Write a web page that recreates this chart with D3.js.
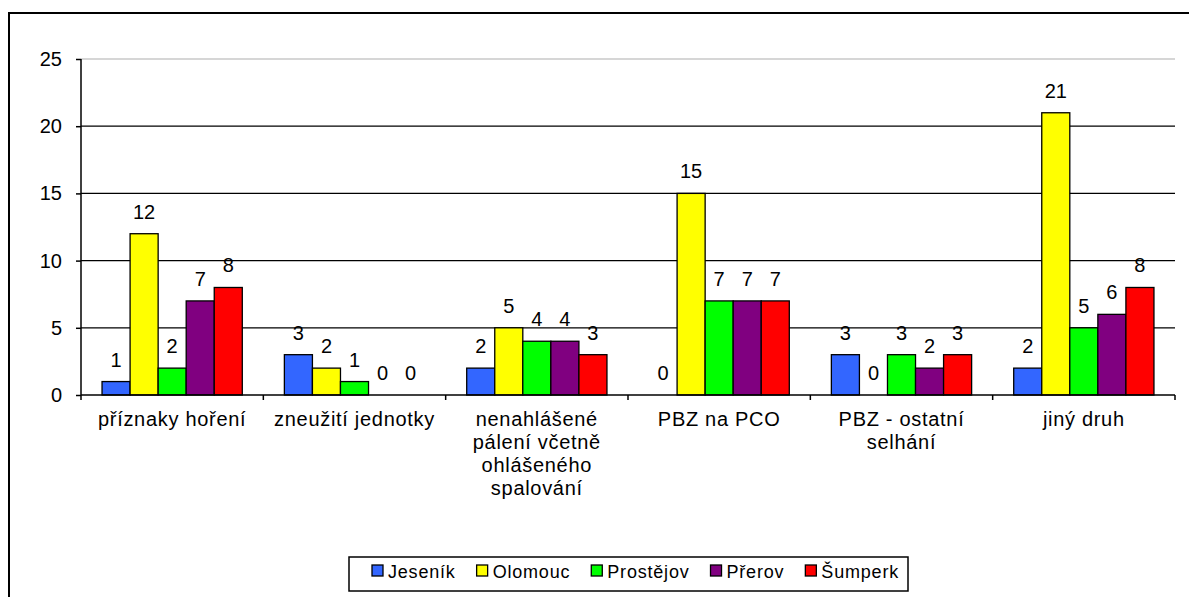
<!DOCTYPE html>
<html>
<head>
<meta charset="utf-8">
<script src="https://cdn.jsdelivr.net/npm/d3@7"></script>
<style>
	body { margin: 0; background: #fff; }
	svg { display: block; font-family: 'Liberation Sans', Arial, sans-serif; }
	.axis path, .axis line { stroke: #000; stroke-width: 1.5; }
	.axis text { font-size: 20px; fill: #000; }
</style>
</head>
<body>
<div id="chart"></div>
<script>
var categories = [
	['příznaky hoření'],
	['zneužití jednotky'],
	['nenahlášené', 'pálení včetně', 'ohlášeného', 'spalování'],
	['PBZ na PCO'],
	['PBZ - ostatní', 'selhání'],
	['jiný druh']
];
var seriesNames = ['Jeseník', 'Olomouc', 'Prostějov', 'Přerov', 'Šumperk'];
var jesenik   = [1, 3, 2, 0, 3, 2];
var olomouc   = [12, 2, 5, 15, 0, 21];
var prostejov = [2, 1, 4, 7, 3, 5];
var prerov    = [7, 0, 4, 7, 2, 6];
var sumperk   = [8, 0, 3, 7, 3, 8];
var yTicks = [0, 5, 10, 15, 20, 25];

var seriesValues = [jesenik, olomouc, prostejov, prerov, sumperk];
var colors = ['#3366FF', '#FFFF00', '#00FF00', '#800080', '#FF0000'];

var width = 1189, height = 597;
var plot = { left: 81, right: 1175, top: 59, bottom: 395 };

var svg = d3.select('#chart').append('svg')
	.attr('width', width)
	.attr('height', height);

// outer chart frame
svg.append('rect')
	.attr('x', 9).attr('y', 13)
	.attr('width', 1200).attr('height', 600)
	.attr('fill', '#fff')
	.attr('stroke', '#000')
	.attr('stroke-width', 2);

var catIdx = categories.map(function(d, i) { return i; });

var x0 = d3.scaleBand()
	.domain(catIdx)
	.range([plot.left, plot.right])
	.padding(0);

var x1 = d3.scaleBand()
	.domain(seriesNames)
	.range([0, x0.bandwidth()])
	.paddingInner(0)
	.paddingOuter(0.75);

var y = d3.scaleLinear()
	.domain([0, 25])
	.range([plot.bottom, plot.top]);

// gridlines
svg.append('g').selectAll('line')
	.data(yTicks.filter(function(t) { return t > 0; }))
	.enter().append('line')
	.attr('x1', plot.left).attr('x2', plot.right)
	.attr('y1', function(d) { return y(d); })
	.attr('y2', function(d) { return y(d); })
	.attr('stroke', function(d) { return d === 25 ? '#c8c8c8' : '#000'; })
	.attr('stroke-width', 1.3);

// bars
var rows = [];
catIdx.forEach(function(c) {
	seriesNames.forEach(function(s, si) {
		rows.push({ cat: c, key: s, value: seriesValues[si][c], color: colors[si] });
	});
});

svg.append('g').selectAll('rect')
	.data(rows.filter(function(d) { return d.value > 0; }))
	.enter().append('rect')
	.attr('x', function(d) { return x0(d.cat) + x1(d.key); })
	.attr('y', function(d) { return y(d.value); })
	.attr('width', x1.bandwidth())
	.attr('height', function(d) { return y(0) - y(d.value); })
	.attr('fill', function(d) { return d.color; })
	.attr('stroke', '#000')
	.attr('stroke-width', 1.3);

// value labels
svg.append('g').selectAll('text')
	.data(rows)
	.enter().append('text')
	.attr('x', function(d) { return x0(d.cat) + x1(d.key) + x1.bandwidth() / 2; })
	.attr('y', function(d) { return y(d.value) - 15; })
	.attr('text-anchor', 'middle')
	.style('font-size', '20px')
	.text(function(d) { return d.value; });

// y axis
var yAxis = svg.append('g')
	.attr('class', 'axis')
	.attr('transform', 'translate(' + plot.left + ',0)')
	.call(d3.axisLeft(y).tickValues(yTicks).tickSize(5).tickPadding(14).tickSizeOuter(0));
yAxis.select('.domain').attr('d', 'M0,' + plot.bottom + 'V' + plot.top);

// x axis with ticks at category boundaries
svg.append('line')
	.attr('x1', plot.left).attr('x2', plot.right)
	.attr('y1', plot.bottom).attr('y2', plot.bottom)
	.attr('stroke', '#000').attr('stroke-width', 1.5);

var bounds = catIdx.map(function(c) { return x0(c); }).concat([plot.right]);
svg.append('g').selectAll('line')
	.data(bounds)
	.enter().append('line')
	.attr('x1', function(d) { return d; })
	.attr('x2', function(d) { return d; })
	.attr('y1', plot.bottom).attr('y2', plot.bottom + 5)
	.attr('stroke', '#000').attr('stroke-width', 1.5);

// category labels
var catLabels = svg.append('g').selectAll('text')
	.data(catIdx)
	.enter().append('text')
	.attr('text-anchor', 'middle')
	.attr('x', function(d) { return x0(d) + x0.bandwidth() / 2; })
	.attr('y', 426)
	.style('font-size', '20px')
	.style('letter-spacing', '0.7px');

catLabels.selectAll('tspan')
	.data(function(d) { return categories[d].map(function(t) { return { t: t, x: x0(d) + x0.bandwidth() / 2 }; }); })
	.enter().append('tspan')
	.attr('x', function(d) { return d.x; })
	.attr('dy', function(d, i) { return i === 0 ? 0 : 23; })
	.text(function(d) { return d.t; });

// legend
var legend = svg.append('g');
legend.append('rect')
	.attr('x', 349).attr('y', 557)
	.attr('width', 559).attr('height', 34)
	.attr('fill', '#fff')
	.attr('stroke', '#000')
	.attr('stroke-width', 1.5);

var lx = 372;
seriesNames.forEach(function(s, i) {
	legend.append('rect')
		.attr('x', lx).attr('y', 565)
		.attr('width', 11).attr('height', 11)
		.attr('fill', colors[i])
		.attr('stroke', '#000')
		.attr('stroke-width', 1.3);
	var t = legend.append('text')
		.attr('x', lx + 16).attr('y', 578)
		.style('font-size', '18px')
		.style('letter-spacing', '0.8px')
		.text(s);
	lx += 16 + t.node().getComputedTextLength() + 21;
});
</script>
</body>
</html>
